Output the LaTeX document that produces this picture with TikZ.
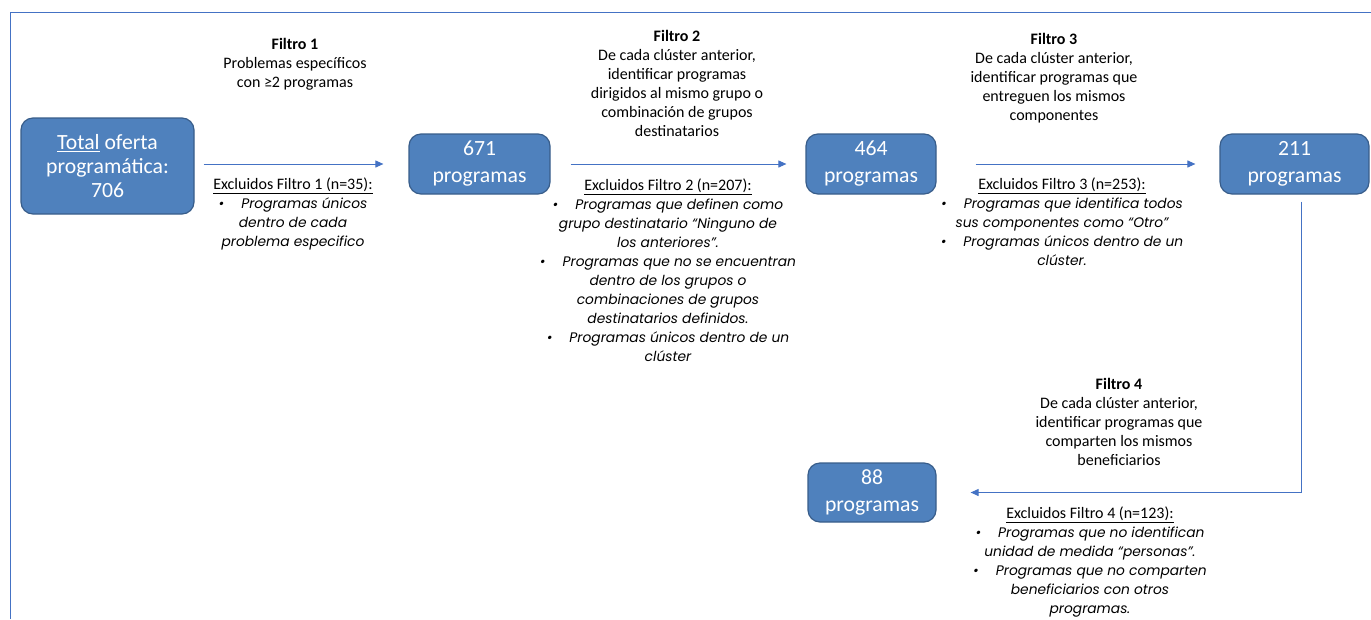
\documentclass[tikz,border=0pt]{standalone}
\usepackage{fontspec}
\setmainfont{Carlito}
\newfontfamily\pop{Poppins}
\usetikzlibrary{arrows.meta}
\definecolor{boxfill}{RGB}{79,129,189}
\definecolor{boxline}{RGB}{56,93,138}
\definecolor{arrowc}{RGB}{68,114,196}
\definecolor{framec}{RGB}{68,114,196}
\tikzset{
  numbox/.style={draw=boxline, fill=boxfill, line width=1.2pt, rounded corners=12pt,
    text=white, align=center, inner sep=0pt, font=\fontsize{21.7}{27}\selectfont},
  filtertext/.style={align=center, inner sep=0pt, font=\fontsize{16}{19}\selectfont},
  excltext/.style={align=center, inner sep=0pt, font=\fontsize{16}{19}\selectfont},
  flow/.style={draw=arrowc, line width=1pt, -{Triangle[length=8pt,width=7pt]}},
}
\newcommand{\exc}[1]{{\pop\itshape\fontsize{13.8}{19}\selectfont #1}}
\newcommand{\bul}{\textbullet\hspace{17pt}}
\begin{document}
\begin{tikzpicture}[x=1pt,y=-1pt]
\useasboundingbox (0,0) rectangle (1371,619);
% frame
\draw[framec, line width=1pt] (10,619) -- (10,12) -- (1371,12);
% boxes
\node[numbox, minimum width=173pt, minimum height=96pt, font=\fontsize{21.7}{24}\selectfont] (t) at (107.5,166) {\underline{Total} oferta\\programática:\\706};
\node[numbox, minimum width=141pt, minimum height=60pt] (b1) at (479.5,164) {671\\programas};
\node[numbox, minimum width=130pt, minimum height=60pt] (b2) at (871,164) {464\\programas};
\node[numbox, minimum width=149pt, minimum height=60pt] (b3) at (1294.5,164) {211\\programas};
\node[numbox, minimum width=128pt, minimum height=59pt] (b4) at (872,492.5) {88\\programas};
% arrows
\draw[flow, shorten <=9pt, shorten >=25pt] (t.east |- b1.west) -- (b1.west);
\draw[flow, shorten <=20pt, shorten >=19pt] (b1.east) -- (b2.west);
\draw[flow, shorten <=39pt, shorten >=24pt] (b2.east) -- (b3.west);
\draw[flow, shorten <=7pt, shorten >=34pt] ([xshift=6.5pt]b3.south) |- (b4.east);
% filter texts
\node[filtertext] (f1) at (295,64) {\textbf{Filtro 1}\\Problemas específicos\\con ≥2 programas};
\node[filtertext] (f2) at (677,83) {\textbf{Filtro 2}\\De cada clúster anterior,\\identificar programas\\dirigidos al mismo grupo o\\combinación de grupos\\destinatarios};
\node[filtertext] (f3) at (1054,78) {\textbf{Filtro 3}\\De cada clúster anterior,\\identificar programas que\\entreguen los mismos\\componentes};
\node[filtertext] (f4) at (1119,422) {\textbf{Filtro 4}\\De cada clúster anterior,\\identificar programas que\\comparten los mismos\\beneficiarios};
% excluded texts
\node[excltext] (e1) at (293,214) {\underline{Excluidos Filtro 1 (n=35):}\\
\exc{\bul Programas únicos}\\
\exc{dentro de cada}\\
\exc{problema especifico}};
\node[excltext] (e2) at (668,270) {\underline{Excluidos Filtro 2 (n=207):}\\
\exc{\bul Programas que definen como}\\
\exc{grupo destinatario “Ninguno de}\\
\exc{los anteriores”.}\\
\exc{\bul Programas que no se encuentran}\\
\exc{dentro de los grupos o}\\
\exc{combinaciones de grupos}\\
\exc{destinatarios definidos.}\\
\exc{\bul Programas únicos dentro de un}\\
\exc{clúster}};
\node[excltext] (e3) at (1062,222) {\underline{Excluidos Filtro 3 (n=253):}\\
\exc{\bul Programas que identifica todos}\\
\exc{sus componentes como “Otro”}\\
\exc{\bul Programas únicos dentro de un}\\
\exc{clúster.}};
\node[excltext] (e4) at (1090,562) {\underline{Excluidos Filtro 4 (n=123):}\\
\exc{\bul Programas que no identifican}\\
\exc{unidad de medida “personas”.}\\
\exc{\bul Programas que no comparten}\\
\exc{beneficiarios con otros}\\
\exc{programas.}};
\end{tikzpicture}
\end{document}
